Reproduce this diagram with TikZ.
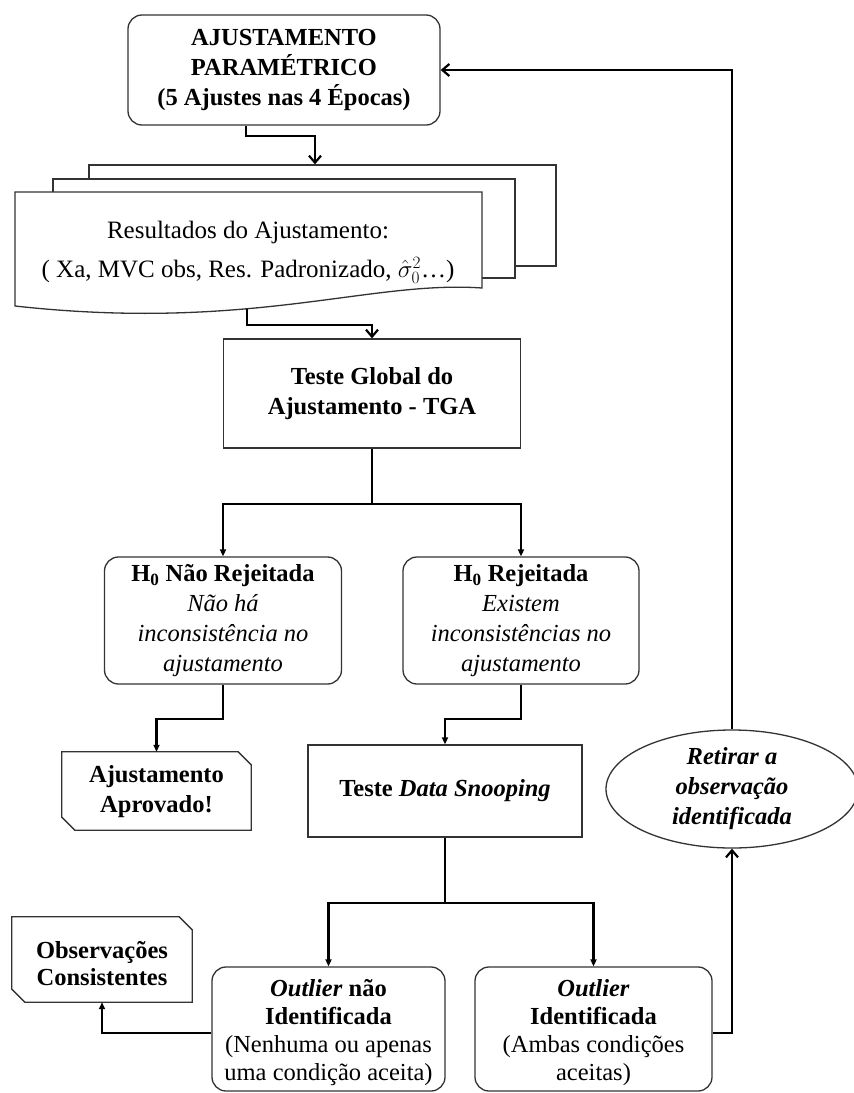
\documentclass[tikz,border=0pt]{standalone}
\usepackage{fontspec}
\setmainfont{Liberation Serif}
\usetikzlibrary{arrows.meta,shapes.geometric}
\begin{document}
\begin{tikzpicture}[x=1pt,y=-1pt,
  bx/.style={draw=black!80, line width=1.3pt, fill=white, align=center, inner sep=0pt, font=\fontsize{24.5}{30}\selectfont},
  rbx/.style={bx, rounded corners=14pt},
  txt/.style={align=center, inner sep=0pt, font=\fontsize{24.5}{30}\selectfont},
  pg/.style={draw=black!80, line width=1.3pt, fill=white, inner sep=0pt},
  chb/.style={draw=black!80, line width=1.3pt, fill=white},
  ln/.style={line width=2.2pt, black},
  arr/.style={ln, -{Triangle[length=7pt,width=6pt]}},
  barb/.style={ln, -{Straight Barb[length=7pt,width=12pt]}},
]
\useasboundingbox (0,0) rectangle (854,1093);

% top box
\node[rbx, minimum width=312pt, minimum height=110pt] (top) at (284,70)
  {\textbf{AJUSTAMENTO}\\\textbf{PARAMÉTRICO}\\\textbf{(5 Ajustes nas 4 Épocas)}};

% stacked pages
\node[pg, minimum width=467pt, minimum height=101pt] (pg3) at (322.5,215.5) {};
\node[pg, minimum width=462pt, minimum height=99pt] (pg2) at (284,228.5) {};
\draw[chb] (15,192) -- (482,192) -- (482,288)
  .. controls (370,280) and (250,332) .. (15,306) -- cycle;
\node[txt, font=\fontsize{25}{39}\selectfont] (pg1) at (248,252)
  {Resultados do Ajustamento:\\( Xa, MVC obs, Res. Padronizado, $\hat{\sigma}_0^2$\ldots)};
\coordinate (pg1b) at (247,309);

% TGA
\node[bx, minimum width=297pt, minimum height=109pt] (tga) at (372,393.5)
  {\textbf{Teste Global do}\\\textbf{Ajustamento - TGA}};

% H0 boxes
\node[rbx, minimum width=237pt, minimum height=127pt] (h0nr) at (223,620.5)
  {\textbf{H\textsubscript{0} Não Rejeitada}\\\textit{Não há}\\\textit{inconsistência no}\\\textit{ajustamento}};
\node[rbx, minimum width=236pt, minimum height=127pt] (h0r) at (521,620.5)
  {\textbf{H\textsubscript{0} Rejeitada}\\\textit{Existem}\\\textit{inconsistências no}\\\textit{ajustamento}};

% Ajustamento aprovado (chamfered)
\node[txt, minimum width=189pt, minimum height=78pt] (apr) at (156.5,791) {};
\draw[chb] (apr.north west) -- ([xshift=-13pt]apr.north east) -- ([yshift=-13pt]apr.north east)
  -- (apr.south east) -- ([xshift=13pt]apr.south west) -- ([yshift=13pt]apr.south west) -- cycle;
\node[txt] (aprt) at (156.5,792) {\textbf{Ajustamento}\\\textbf{Aprovado!}};

% Data snooping
\node[bx, minimum width=274pt, minimum height=92pt] (ds) at (445,791)
  {\textbf{Teste \textit{Data Snooping}}};

% ellipse
\node[ellipse, draw=black!80, line width=1.3pt, fill=white, align=center, inner sep=0pt,
  font=\fontsize{24.5}{30}\selectfont, minimum width=252pt, minimum height=118pt] (ell) at (732,789)
  {\textbf{\textit{Retirar a}}\\\textbf{\textit{observação}}\\\textbf{\textit{identificada}}};

% Observacoes consistentes (chamfered)
\node[txt, minimum width=180pt, minimum height=85pt] (obs) at (102,959.5) {};
\draw[chb] (obs.north west) -- ([xshift=-13pt]obs.north east) -- ([yshift=-13pt]obs.north east)
  -- (obs.south east) -- ([xshift=13pt]obs.south west) -- ([yshift=13pt]obs.south west) -- cycle;
\node[txt, font=\fontsize{24.5}{27}\selectfont] (obst) at (102,964) {\textbf{Observações}\\\textbf{Consistentes}};

% outlier boxes
\node[rbx, minimum width=233pt, minimum height=124pt] (onao) at (328.5,1029) {};
\node[txt, font=\fontsize{24.5}{28}\selectfont] (onaot) at (328.5,1033)
  {\textbf{\textit{Outlier} não}\\\textbf{Identificada}\\(Nenhuma ou apenas\\uma condição aceita)};
\node[rbx, minimum width=237pt, minimum height=124pt] (oid) at (593.5,1029) {};
\node[txt, font=\fontsize{24.5}{28}\selectfont] (oidt) at (593.5,1033)
  {\textbf{\textit{Outlier}}\\\textbf{Identificada}\\(Ambas condições\\aceitas)};

% connectors
\draw[barb] ([xshift=-38pt]top.south) -- ++(0,10) -| ([xshift=-7.5pt]pg3.north);
\draw[barb] (pg1b) -- ++(0,16) -| (tga.north);
\coordinate (j1) at (372,504);
\draw[ln] (tga.south) -- (j1);
\draw[arr] (j1) -| (h0nr.north);
\draw[arr] (j1) -| (h0r.north);
\draw[arr] (h0nr.south) -- ++(0,34) -| (apr.north);
\draw[arr] (h0r.south) -- ++(0,34) -| (ds.north);
\coordinate (j2) at (445,903);
\draw[ln] (ds.south) -- (j2);
\draw[arr] (j2) -| (onao.north);
\draw[arr] (j2) -| (oid.north);
\draw[arr] ([yshift=-4pt]onao.west) -| (obs.south);
\draw[barb] ([yshift=-4pt]oid.east) -| (ell.south);
\draw[barb] (ell.north) |- (top.east);
\end{tikzpicture}
\end{document}
